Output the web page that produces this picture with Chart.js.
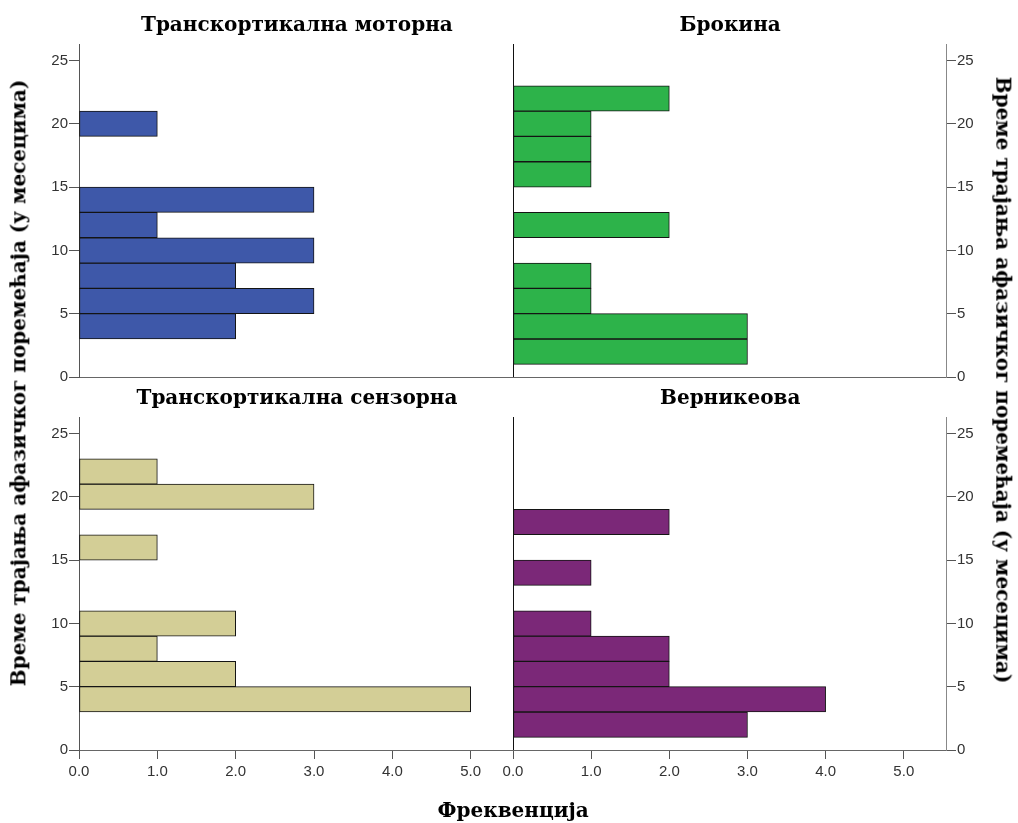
<!DOCTYPE html>
<html>
<head>
<meta charset="utf-8">
<script src="https://cdn.jsdelivr.net/npm/chart.js@4.4.1/dist/chart.umd.min.js"></script>
<style>
  html, body { margin: 0; padding: 0; background: #fff; }
  #wrap { position: relative; width: 1018px; height: 823px; overflow: hidden; }
  canvas { position: absolute; }
  .t { position: absolute; font-family: "DejaVu Serif", "Liberation Serif", serif; font-weight: bold;
       font-size: 20px; letter-spacing: 0px; color: #000; white-space: nowrap; line-height: 1; }
</style>
</head>
<body>
<div id="wrap">
  <canvas id="cTL" width="503" height="359" style="left:10px;top:30px"></canvas>
  <canvas id="cTR" width="495" height="359" style="left:513px;top:30px"></canvas>
  <canvas id="cBL" width="503" height="420" style="left:10px;top:403px"></canvas>
  <canvas id="cBR" width="518" height="420" style="left:490px;top:403px"></canvas>
  <div class="t" id="tTL"></div>
  <div class="t" id="tTR"></div>
  <div class="t" id="tBL"></div>
  <div class="t" id="tBR"></div>
  <div class="t" id="yLeft"></div>
  <div class="t" id="yRight"></div>
  <div class="t" id="xTitle"></div>
</div>
<script>
// ---- data ----
const panelTitles = ["Транскортикална моторна", "Брокина", "Транскортикална сензорна", "Верникеова"];
const yAxisTitle = "Време трајања афазичког поремећаја (у месецима)";
const xAxisTitle = "Фреквенција";
// bin centres (months), bins are 2 months wide: 1-3, 3-5, ..., 21-23
const binCenters = [2, 4, 6, 8, 10, 12, 14, 16, 18, 20, 22];
const motorCounts    = [0, 2, 3, 2, 3, 1, 3, 0, 0, 1, 0];
const brocaCounts    = [3, 3, 1, 1, 0, 2, 0, 1, 1, 1, 2];
const sensoryCounts  = [0, 5, 2, 1, 2, 0, 0, 1, 0, 3, 1];
const wernickeCounts = [3, 4, 2, 2, 1, 0, 1, 0, 2, 0, 0];
const yTickStep = 5;
const xTickStep = 1;

const colors = ["#3E58A9", "#2DB34A", "#D3CE96", "#7B2878"];

Chart.defaults.font.family = '"Liberation Sans", Arial, sans-serif';
Chart.defaults.font.size = 15;
Chart.defaults.color = '#333';

function makePoints(counts) {
  const pts = [];
  counts.forEach((c, i) => { if (c > 0) pts.push({ x: c, y: binCenters[i] }); });
  return pts;
}

function makeChart(id, counts, color, opts) {
  const { right, bottom, padLeft } = opts;
  return new Chart(document.getElementById(id), {
    type: 'bar',
    data: {
      datasets: [{
        data: makePoints(counts),
        backgroundColor: color,
        borderColor: '#141414',
        borderWidth: 1,
        borderSkipped: false,
        barPercentage: 1,
        categoryPercentage: 1
      }]
    },
    options: {
      indexAxis: 'y',
      responsive: false,
      animation: false,
      devicePixelRatio: 1,
      layout: { padding: { top: 14, left: padLeft || 0, right: 0, bottom: 0 } },
      plugins: { legend: { display: false }, tooltip: { enabled: false }, title: { display: false } },
      scales: {
        x: {
          type: 'linear', position: 'bottom', min: 0, max: 5.54, offset: false,
          ticks: { display: bottom, stepSize: xTickStep, includeBounds: false, padding: 4,
                   callback: v => Number(v).toFixed(1), color: '#333' },
          grid: {
            offset: false,
            drawOnChartArea: true,
            drawTicks: bottom,
            tickLength: 9,
            tickColor: '#555',
            color: ctx => (right && ctx.tick && ctx.tick.value === 0) ? '#111' : 'transparent'
          },
          border: { display: true, color: '#666', width: 1 },
          afterFit: s => { s.height = bottom ? 73 : 12; }
        },
        y: {
          type: 'linear', position: right ? 'right' : 'left', min: 0, max: 26.3, offset: false,
          ticks: { stepSize: yTickStep, includeBounds: false, padding: 1, color: '#333' },
          grid: { offset: false, drawOnChartArea: false, drawTicks: true, tickLength: 10, tickColor: '#555' },
          border: { display: true, color: right ? '#888' : '#555', width: 1 },
          afterFit: s => { s.width = right ? 62 : 69; }
        }
      }
    }
  });
}

makeChart('cTL', motorCounts, colors[0], { right: false, bottom: false });
makeChart('cTR', brocaCounts, colors[1], { right: true, bottom: false });
makeChart('cBL', sensoryCounts, colors[2], { right: false, bottom: true });
makeChart('cBR', wernickeCounts, colors[3], { right: true, bottom: true, padLeft: 23 });

// ---- text placement ----
function place(id, text, cx, cy, rot) {
  const el = document.getElementById(id);
  el.textContent = text;
  const w = el.offsetWidth, h = el.offsetHeight;
  el.style.left = (cx - w / 2) + 'px';
  el.style.top = (cy - h / 2) + 'px';
  if (rot) el.style.transform = 'rotate(' + rot + 'deg)';
}
place('tTL', panelTitles[0], 297, 24);
place('tTR', panelTitles[1], 730, 24);
place('tBL', panelTitles[2], 297, 397);
place('tBR', panelTitles[3], 730, 397);
place('yLeft', yAxisTitle, 18, 383, -90);
place('yRight', yAxisTitle, 1003, 380, 90);
place('xTitle', xAxisTitle, 513, 810);
</script>
</body>
</html>
